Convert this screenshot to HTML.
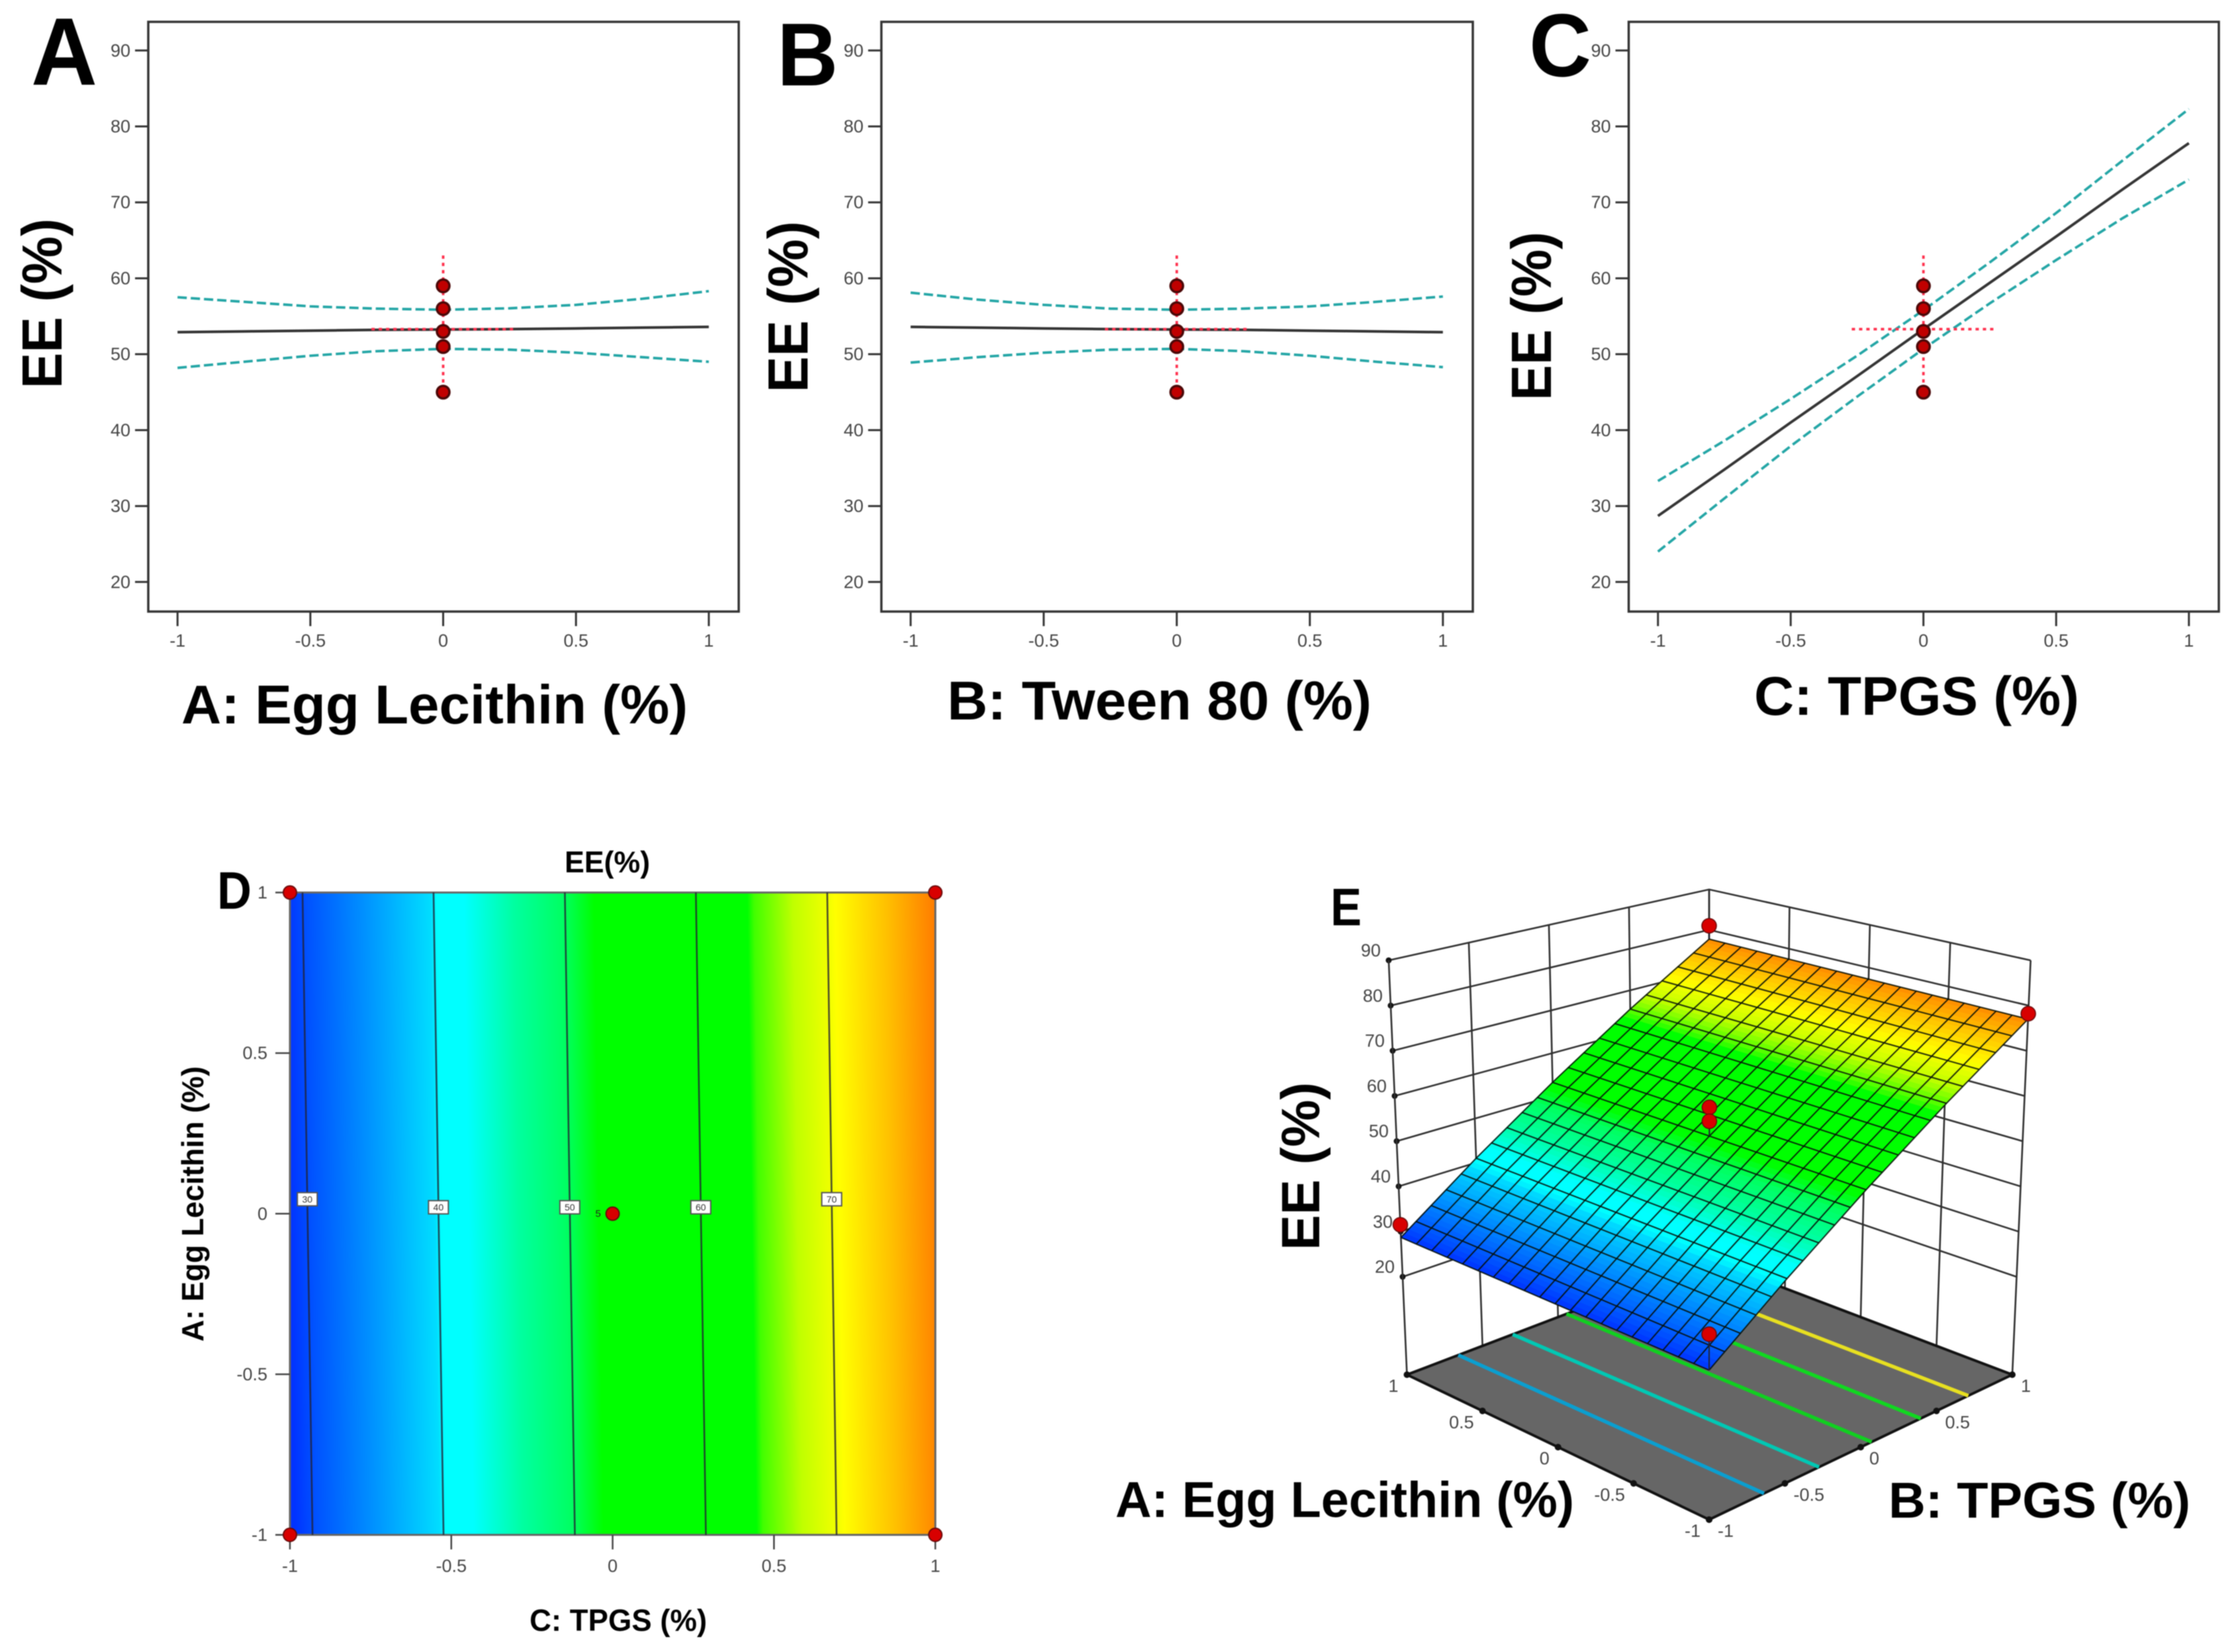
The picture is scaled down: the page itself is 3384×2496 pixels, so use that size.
<!DOCTYPE html>
<html lang="en">
<head>
<meta charset="utf-8">
<title>EE (%) response plots</title>
<style>
html,body{margin:0;padding:0;background:#fff;}
svg{display:block;filter:blur(0.9px);}
text{font-family:"Liberation Sans",sans-serif;}
.big{font-weight:bold;fill:#000;}
.tick{fill:#444;font-size:27px;}
</style>
</head>
<body>
<svg id="figure" width="3384" height="2496" viewBox="0 0 3384 2496" xmlns="http://www.w3.org/2000/svg">
<defs id="defs"></defs>
<rect width="3384" height="2496" fill="#fff"/>

<g id="panel-a">
  <text class="big" x="47" y="128" font-size="145" textLength="100" lengthAdjust="spacingAndGlyphs">A</text>
  <text class="big" transform="translate(93,587) rotate(-90)" font-size="85" textLength="257" lengthAdjust="spacingAndGlyphs">EE (%)</text>
  <text class="big" x="274" y="1093" font-size="83" textLength="765" lengthAdjust="spacingAndGlyphs">A: Egg Lecithin (%)</text>
</g>
<g id="panel-b">
  <text class="big" x="1174" y="129" font-size="135" textLength="92" lengthAdjust="spacingAndGlyphs">B</text>
  <text class="big" transform="translate(1220,593) rotate(-90)" font-size="85" textLength="259" lengthAdjust="spacingAndGlyphs">EE (%)</text>
  <text class="big" x="1431" y="1087" font-size="83" textLength="641" lengthAdjust="spacingAndGlyphs">B: Tween 80 (%)</text>
</g>
<g id="panel-c">
  <text class="big" x="2310" y="115" font-size="135" textLength="94" lengthAdjust="spacingAndGlyphs">C</text>
  <text class="big" transform="translate(2343,605) rotate(-90)" font-size="85" textLength="255" lengthAdjust="spacingAndGlyphs">EE (%)</text>
  <text class="big" x="2650" y="1080" font-size="83" textLength="491" lengthAdjust="spacingAndGlyphs">C: TPGS (%)</text>
</g>
<g id="panel-d">
  <text class="big" x="853" y="1318" font-size="45" textLength="129" lengthAdjust="spacingAndGlyphs">EE(%)</text>
  <text class="big" x="800" y="2464" font-size="46" textLength="268" lengthAdjust="spacingAndGlyphs">C: TPGS (%)</text>
  <text class="big" transform="translate(307,2027) rotate(-90)" font-size="46" textLength="416" lengthAdjust="spacingAndGlyphs">A: Egg Lecithin (%)</text>
</g>
<g id="panel-e">
  <text class="big" transform="translate(1993,1889) rotate(-90)" font-size="82" textLength="254" lengthAdjust="spacingAndGlyphs">EE  (%)</text>
  <text class="big" x="1685" y="2292" font-size="76" textLength="693" lengthAdjust="spacingAndGlyphs">A: Egg Lecithin (%)</text>
  <text class="big" x="2853" y="2293" font-size="76" textLength="456" lengthAdjust="spacingAndGlyphs">B: TPGS (%)</text>
</g>
<g id="letters">
  <text class="big" x="328" y="1373" font-size="80" textLength="52" lengthAdjust="spacingAndGlyphs">D</text>
  <text class="big" x="2010" y="1398" font-size="80" textLength="47" lengthAdjust="spacingAndGlyphs">E</text>
</g>
</svg>

<script>
// ---------- one-factor plots (A, B, C) ----------
const factorLevels = [-1, -0.75, -0.5, -0.25, 0, 0.25, 0.5, 0.75, 1];
const yTickValues = [20, 30, 40, 50, 60, 70, 80, 90];
const xTickValues = [-1, -0.5, 0, 0.5, 1];
const designPointsEE = [59, 56, 53, 51, 45];
const errorBarEELow = 45;
const errorBarEEHigh = 63;
const errorBarEECentre = 53.3;
const errorBarFactorHalf = 0.27;

const panelAPredicted = [52.9, 53.0, 53.1, 53.2, 53.25, 53.3, 53.4, 53.5, 53.6];
const panelAUpper = [57.5, 56.9, 56.3, 56.0, 55.85, 56.05, 56.5, 57.3, 58.3];
const panelALower = [48.2, 49.0, 49.8, 50.4, 50.7, 50.6, 50.2, 49.6, 49.0];

const panelBPredicted = [53.6, 53.5, 53.4, 53.3, 53.25, 53.2, 53.1, 53.0, 52.9];
const panelBUpper = [58.1, 57.2, 56.5, 56.0, 55.85, 56.0, 56.3, 56.9, 57.6];
const panelBLower = [48.9, 49.6, 50.2, 50.6, 50.7, 50.4, 49.8, 49.0, 48.3];

const panelCPredicted = [28.7, 34.8, 41.0, 47.1, 53.3, 59.4, 65.5, 71.7, 77.8];
const panelCUpper = [33.3, 38.6, 44.1, 49.8, 55.8, 62.1, 68.6, 75.5, 82.3];
const panelCLower = [24.0, 31.0, 37.9, 44.4, 50.7, 56.7, 62.4, 67.9, 73.0];

// ---------- shared colour scale ----------
const colorLevels = [28.7, 30.2, 34.6, 39.7, 40.2, 42.3, 46.1, 49.9, 52.2, 63.9, 64.4, 67.4, 70, 70.6, 74.5, 78];
const colorValues = ['#0033ff', '#0050ff', '#0090ff', '#00ddff', '#00ffff', '#00ffff', '#00ffa0', '#00ff60', '#00ff00', '#00ff00', '#40ff00', '#c0ff00', '#f0ff00', '#ffff00', '#ffc000', '#ff8000'];

// ---------- contour plot (D) ----------
const contourLevels = [30, 40, 50, 60, 70];
const contourCAtAHigh = [-0.961, -0.555, -0.148, 0.258, 0.665];
const contourCAtALow = [-0.93, -0.524, -0.117, 0.289, 0.694];
const contourLabelA = [0.045, 0.02, 0.02, 0.02, 0.045];
const contourTickValues = [-1, -0.5, 0, 0.5, 1];
const contourPointsC = [-1, 1, -1, 1, 0];
const contourPointsA = [1, 1, -1, -1, 0];

// ---------- 3D surface (E) ----------
const zTickValues = [20, 30, 40, 50, 60, 70, 80, 90];
const floorTickValues = [-1, -0.5, 0, 0.5, 1];
const meshBLevels = [-1, -0.5, 0, 0.5, 1];
const meshEEAtALow = [28.7, 40.8, 52.85, 64.9, 77.0];
const meshEEAtAHigh = [28.7, 41.0, 53.2, 65.5, 77.7];
const floorContourBAtALow = [-0.638, -0.275, 0.072, 0.396, 0.71];
const floorContourBAtAHigh = [-0.66, -0.3, 0.056, 0.38, 0.69];
const floorContourColors = ['#0a9fd0', '#00c8b4', '#10d020', '#10d820', '#e8e020'];
const surfacePointsA = [1, -1, 1, -1, 0, 0];
const surfacePointsB = [1, 1, -1, -1, 0, 0];
const surfacePointsEE = [81, 78.2, 31.5, 36, 59.4, 56.3];

const NS = 'http://www.w3.org/2000/svg';

function add(parent, tag, attrs, name) {
  const el = document.createElementNS(NS, tag);
  for (const k in attrs) el.setAttribute(k, attrs[k]);
  
  
  parent.appendChild(el);
  return el;
}
function addText(parent, x, y, str, anchor, size, name, fill) {
  const t = add(parent, 'text', {x: x, y: y, 'text-anchor': anchor, 'font-size': size, fill: fill || '#444', 'dominant-baseline': 'central'}, name);
  t.textContent = str;
  return t;
}
function pathFrom(points) {
  return points.map((p, i) => (i ? 'L' : 'M') + p[0].toFixed(1) + ' ' + p[1].toFixed(1)).join(' ');
}
function hexRgb(h) {
  return [parseInt(h.slice(1, 3), 16), parseInt(h.slice(3, 5), 16), parseInt(h.slice(5, 7), 16)];
}
function colorFor(v) {
  if (v <= colorLevels[0]) return colorValues[0];
  for (let i = 1; i < colorLevels.length; i++) {
    if (v <= colorLevels[i]) {
      const t = (v - colorLevels[i - 1]) / (colorLevels[i] - colorLevels[i - 1]);
      const a = hexRgb(colorValues[i - 1]), b = hexRgb(colorValues[i]);
      return 'rgb(' + a.map((c, j) => Math.round(c + (b[j] - c) * t)).join(',') + ')';
    }
  }
  return colorValues[colorValues.length - 1];
}

// ---------- one-factor panel ----------
function drawEffectPanel(parentId, frameLeft, frameRight, predicted, upper, lower, tag) {
  const g = document.getElementById(parentId);
  const frameTop = 33, frameBottom = 924;
  const x0 = frameLeft + 44.2, x1 = frameRight - 45.2;
  const sx = v => x0 + (v + 1) / 2 * (x1 - x0);
  const yTop = 76.3, yBot = 879.3;
  const sy = v => yTop + (90 - v) / 70 * (yBot - yTop);

  add(g, 'rect', {x: frameLeft, y: frameTop, width: frameRight - frameLeft, height: frameBottom - frameTop, fill: '#fff', stroke: '#333', 'stroke-width': 3.5}, 'plot-frame-' + tag);

  yTickValues.forEach(v => {
    add(g, 'line', {x1: frameLeft - 20, x2: frameLeft, y1: sy(v), y2: sy(v), stroke: '#333', 'stroke-width': 3}, 'y-tick-' + tag);
    addText(g, frameLeft - 27, sy(v), String(v), 'end', 27, 'y-tick-label-' + tag);
  });
  xTickValues.forEach(v => {
    add(g, 'line', {x1: sx(v), x2: sx(v), y1: frameBottom, y2: frameBottom + 22, stroke: '#333', 'stroke-width': 3}, 'x-tick-' + tag);
    addText(g, sx(v), frameBottom + 44, String(v), 'middle', 27, 'x-tick-label-' + tag);
  });

  const pts = arr => factorLevels.map((f, i) => [sx(f), sy(arr[i])]);
  add(g, 'path', {d: pathFrom(pts(predicted)), fill: 'none', stroke: '#333', 'stroke-width': 4}, 'predicted-line-' + tag);
  add(g, 'path', {d: pathFrom(pts(upper)), fill: 'none', stroke: '#22a5a5', 'stroke-width': 3.8, 'stroke-dasharray': '14 6'}, 'upper-ci-line-' + tag);
  add(g, 'path', {d: pathFrom(pts(lower)), fill: 'none', stroke: '#22a5a5', 'stroke-width': 3.8, 'stroke-dasharray': '14 6'}, 'lower-ci-line-' + tag);

  add(g, 'line', {x1: sx(0), x2: sx(0), y1: sy(errorBarEEHigh), y2: sy(errorBarEELow), stroke: '#ff2f4c', 'stroke-width': 3.8, 'stroke-dasharray': '5 6'}, 'vertical-error-bar-' + tag);
  add(g, 'line', {x1: sx(-errorBarFactorHalf), x2: sx(errorBarFactorHalf), y1: sy(errorBarEECentre), y2: sy(errorBarEECentre), stroke: '#ff2f4c', 'stroke-width': 3.8, 'stroke-dasharray': '5 6'}, 'horizontal-error-bar-' + tag);

  designPointsEE.forEach(v => {
    add(g, 'circle', {cx: sx(0), cy: sy(v), r: 9.5, fill: '#c00000', stroke: '#4a0808', 'stroke-width': 3.5}, 'design-point-' + tag);
  });
}
drawEffectPanel('panel-a', 224, 1116, panelAPredicted, panelAUpper, panelALower, 'a');
drawEffectPanel('panel-b', 1331.5, 2225, panelBPredicted, panelBUpper, panelBLower, 'b');
drawEffectPanel('panel-c', 2460.5, 3352, panelCPredicted, panelCUpper, panelCLower, 'c');

// ---------- contour panel ----------
(function drawContour() {
  const g = document.getElementById('panel-d');
  const defs = document.getElementById('defs');
  const L = 438, R = 1413, T = 1348.5, B = 2319;
  const sx = v => L + (v + 1) / 2 * (R - L);
  const sy = v => T + (1 - v) / 2 * (B - T);

  // colour field: stops follow the isoline tilt
  const n = contourLevels.length - 1;
  const midC = i => (contourCAtAHigh[i] + contourCAtALow[i]) / 2;
  const pxPerEE = (sx(midC(n)) - sx(midC(0))) / (contourLevels[n] - contourLevels[0]);
  const dxIso = sx(contourCAtALow[n]) - sx(contourCAtAHigh[n]);
  const dyIso = B - T;
  const len = Math.hypot(dxIso, dyIso);
  const nx = dyIso / len, ny = -dxIso / len;
  const vMin = colorLevels[0], vMax = colorLevels[colorLevels.length - 1];
  const startX = sx(midC(0)) + (vMin - contourLevels[0]) * pxPerEE;
  const span = (vMax - vMin) * pxPerEE * nx;
  const grad = add(defs, 'linearGradient', {id: 'eeGradient', gradientUnits: 'userSpaceOnUse', x1: startX, y1: sy(0), x2: startX + nx * span, y2: sy(0) + ny * span}, 'ee-colour-gradient');
  colorLevels.forEach((v, i) => {
    add(grad, 'stop', {offset: (v - vMin) / (vMax - vMin), 'stop-color': colorValues[i]}, 'ee-colour-stop');
  });
  add(g, 'rect', {x: L, y: T, width: R - L, height: B - T, fill: 'url(#eeGradient)', stroke: '#666', 'stroke-width': 3}, 'contour-field');

  contourTickValues.forEach(v => {
    add(g, 'line', {x1: L - 22, x2: L, y1: sy(v), y2: sy(v), stroke: '#444', 'stroke-width': 2.5}, 'y-tick-d');
    addText(g, L - 34, sy(v), String(v), 'end', 27, 'y-tick-label-d');
    add(g, 'line', {x1: sx(v), x2: sx(v), y1: B, y2: B + 22, stroke: '#444', 'stroke-width': 2.5}, 'x-tick-d');
    addText(g, sx(v), B + 47, String(v), 'middle', 27, 'x-tick-label-d');
  });

  contourLevels.forEach((lvl, i) => {
    add(g, 'line', {x1: sx(contourCAtAHigh[i]), y1: T, x2: sx(contourCAtALow[i]), y2: B, stroke: '#223', 'stroke-width': 2.6, 'stroke-opacity': 0.8}, 'contour-line-' + lvl);
    const a = contourLabelA[i];
    const c = contourCAtALow[i] + (contourCAtAHigh[i] - contourCAtALow[i]) * (a + 1) / 2;
    add(g, 'rect', {x: sx(c) - 15, y: sy(a) - 10, width: 30, height: 20, fill: '#fff', stroke: '#555', 'stroke-width': 2}, 'contour-label-box-' + lvl);
    addText(g, sx(c), sy(a), String(lvl), 'middle', 14, 'contour-label-' + lvl, '#333');
  });

  contourPointsC.forEach((c, i) => {
    add(g, 'circle', {cx: sx(c), cy: sy(contourPointsA[i]), r: 10, fill: '#d80000', stroke: '#6a0a0a', 'stroke-width': 2}, 'design-point-d');
  });
  addText(g, sx(0) - 22, sy(0), '5', 'middle', 15, 'centre-point-count', '#222');
})();

// ---------- 3D surface panel ----------
(function drawSurface() {
  const g = document.getElementById('panel-e');
  const apex = [2582, 2296, 7.44], left = [2125.5, 2077, 6.83], right = [3040, 2077, 6.83], back = [2582, 1903, 6.10];
  const zFloor = -1.66, persp = 0.00066, cx = 2582;

  function floorAt(a, b) {
    const u = (a + 1) / 2, v = (b + 1) / 2;
    return [0, 1, 2].map(i => (1 - u) * (1 - v) * apex[i] + u * (1 - v) * left[i] + (1 - u) * v * right[i] + u * v * back[i]);
  }
  function project(a, b, z) {
    const f = floorAt(a, b), h = z - zFloor;
    return [cx + (f[0] - cx) * (1 + persp * h), f[1] - h * f[2]];
  }
  function interpAlong(levels, vals, b) {
    for (let i = 1; i < levels.length; i++) {
      if (b <= levels[i]) return vals[i - 1] + (vals[i] - vals[i - 1]) * (b - levels[i - 1]) / (levels[i] - levels[i - 1]);
    }
    return vals[vals.length - 1];
  }
  function ee(a, b) {
    const lo = interpAlong(meshBLevels, meshEEAtALow, b), hi = interpAlong(meshBLevels, meshEEAtAHigh, b);
    return lo + (hi - lo) * (a + 1) / 2;
  }

  // walls
  zTickValues.forEach(z => {
    add(g, 'path', {d: pathFrom([project(1, -1, z), project(1, 1, z), project(-1, 1, z)]), fill: 'none', stroke: '#2e2e2e', 'stroke-width': 2.6}, 'wall-gridline-' + z);
    const p = project(1, -1, z);
    add(g, 'circle', {cx: p[0], cy: p[1], r: 4.5, fill: '#111'}, 'z-tick-dot');
    addText(g, p[0] - 27, p[1] - 15, String(z), 'middle', 27, 'z-tick-label');
  });
  floorTickValues.forEach(t => {
    add(g, 'line', {x1: project(1, t, zFloor)[0], y1: project(1, t, zFloor)[1], x2: project(1, t, 90)[0], y2: project(1, t, 90)[1], stroke: '#2e2e2e', 'stroke-width': 2.6}, 'left-wall-vertical');
    add(g, 'line', {x1: project(t, 1, zFloor)[0], y1: project(t, 1, zFloor)[1], x2: project(t, 1, 90)[0], y2: project(t, 1, 90)[1], stroke: '#2e2e2e', 'stroke-width': 2.6}, 'right-wall-vertical');
  });

  // floor
  const floorPts = [floorAt(-1, -1), floorAt(1, -1), floorAt(1, 1), floorAt(-1, 1)];
  add(g, 'path', {d: pathFrom(floorPts) + ' Z', fill: '#666', stroke: '#111', 'stroke-width': 4}, 'floor-plane');
  floorContourBAtALow.forEach((bLow, i) => {
    const p = floorAt(-1, bLow), q = floorAt(1, floorContourBAtAHigh[i]);
    add(g, 'line', {x1: p[0], y1: p[1], x2: q[0], y2: q[1], stroke: floorContourColors[i], 'stroke-width': 5.5}, 'floor-contour');
  });
  floorTickValues.forEach(t => {
    const p = floorAt(t, -1), q = floorAt(-1, t);
    add(g, 'circle', {cx: p[0], cy: p[1], r: 5, fill: '#111'}, 'a-axis-tick');
    add(g, 'circle', {cx: q[0], cy: q[1], r: 5, fill: '#111'}, 'b-axis-tick');
    addText(g, p[0] - 13, p[1] + 17, String(t), 'end', 27, 'a-axis-tick-label');
    addText(g, q[0] + 13, q[1] + 17, String(t), 'start', 27, 'b-axis-tick-label');
  });

  // surface fill strips (back to front)
  const strips = 80;
  for (let i = strips - 1; i >= 0; i--) {
    const b0 = -1 + 2 * i / strips, b1 = -1 + 2 * (i + 1) / strips;
    const pts = [project(-1, b0, ee(-1, b0)), project(1, b0, ee(1, b0)), project(1, b1, ee(1, b1)), project(-1, b1, ee(-1, b1))];
    const col = colorFor(ee(0, (b0 + b1) / 2));
    add(g, 'path', {d: pathFrom(pts) + ' Z', fill: col, stroke: col, 'stroke-width': 0.8}, 'surface-strip');
  }
  // mesh
  const cells = 20;
  for (let i = 0; i <= cells; i++) {
    const t = -1 + 2 * i / cells;
    add(g, 'line', {x1: project(-1, t, ee(-1, t))[0], y1: project(-1, t, ee(-1, t))[1], x2: project(1, t, ee(1, t))[0], y2: project(1, t, ee(1, t))[1], stroke: '#061008', 'stroke-width': 2, 'stroke-opacity': 0.9}, 'surface-mesh-row');
    const pts = [];
    meshBLevels.forEach(b => pts.push(project(t, b, ee(t, b))));
    add(g, 'path', {d: pathFrom(pts), fill: 'none', stroke: '#061008', 'stroke-width': 2, 'stroke-opacity': 0.9}, 'surface-mesh-column');
  }

  // design points
  surfacePointsEE.forEach((z, i) => {
    const a = surfacePointsA[i], b = surfacePointsB[i];
    const p = project(a, b, z), s = project(a, b, ee(a, b));
    add(g, 'line', {x1: p[0], y1: p[1], x2: s[0], y2: s[1], stroke: '#223', 'stroke-width': 2}, 'design-point-stem');
    add(g, 'circle', {cx: p[0], cy: p[1], r: 11, fill: '#d80000', stroke: '#6a0a0a', 'stroke-width': 1.6}, 'design-point-e');
  });
})();
</script>
</body>
</html>
